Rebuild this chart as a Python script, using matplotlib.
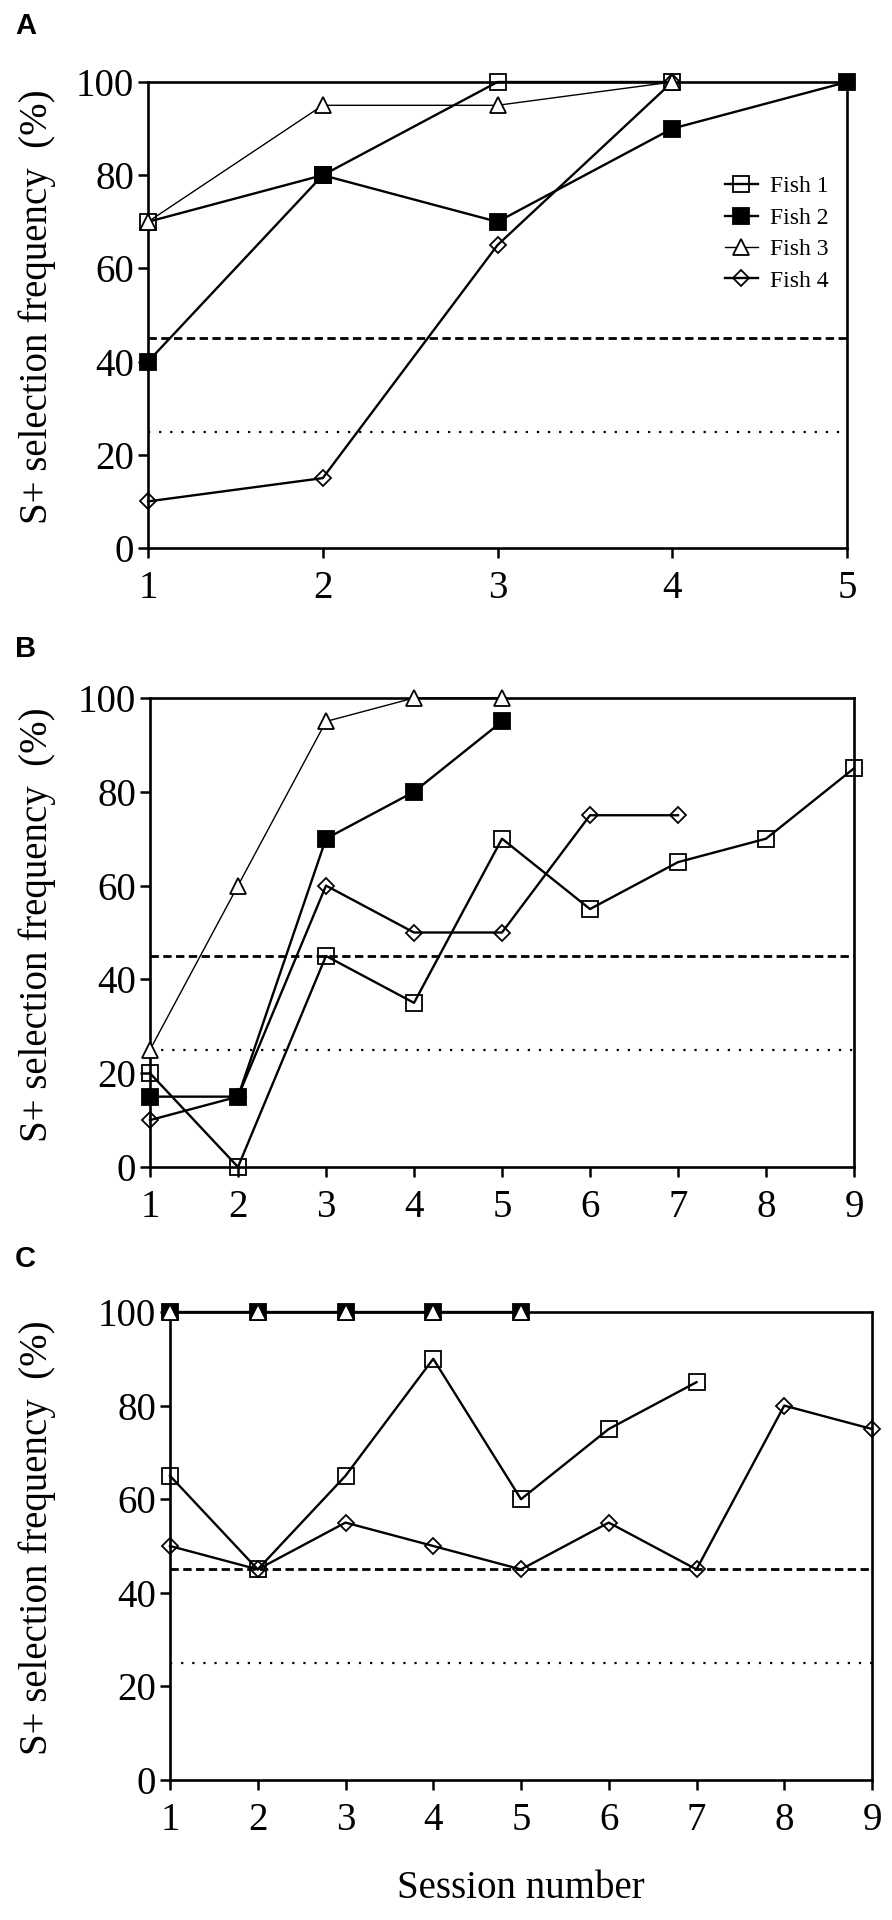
import numpy as np
import matplotlib
matplotlib.use('Agg')
import matplotlib.pyplot as plt

plt.rcParams['font.family'] = ['Liberation Serif', 'DejaVu Serif']

W, H = 892, 1920

# panel A
a_sess = [1, 2, 3, 4, 5]
a_fish1 = [70, 80, 100, 100]
a_fish2 = [40, 80, 70, 90, 100]
a_fish3 = [70, 95, 95, 100]
a_fish4 = [10, 15, 65, 100]

# panel B
b_sess = [1, 2, 3, 4, 5, 6, 7, 8, 9]
b_fish1 = [20, 0, 45, 35, 70, 55, 65, 70, 85]
b_fish2 = [15, 15, 70, 80, 95]
b_fish3 = [25, 60, 95, 100, 100]
b_fish4 = [10, 15, 60, 50, 50, 75, 75]

# panel C
c_sess = [1, 2, 3, 4, 5, 6, 7, 8, 9]
c_fish1 = [65, 45, 65, 90, 60, 75, 85]
c_fish2 = [100, 100, 100, 100, 100]
c_fish3 = [100, 100, 100, 100, 100]
c_fish4 = [50, 45, 55, 50, 45, 55, 45, 80, 75]

fish_names = ['Fish 1', 'Fish 2', 'Fish 3', 'Fish 4']
yticks = [0, 20, 40, 60, 80, 100]
criterion = 45
chance = 25

STYLE = {
    'Fish 1': dict(marker='s', ms=11, mfc='none', lw=1.7, zorder=4),
    'Fish 2': dict(marker='s', ms=11, mfc='black', lw=1.7, zorder=5),
    'Fish 3': dict(marker='^', ms=11, mfc='white', lw=1.0, zorder=6),
    'Fish 4': dict(marker='D', ms=8.5, mfc='none', lw=1.7, zorder=3),
}


def px_axes(fig, left, right, top, bottom):
    return fig.add_axes([left / W, 1 - bottom / H, (right - left) / W,
                         (bottom - top) / H])


def panel(ax, sessions, series, fig, top, bottom):
    for name, vals in zip(fish_names, series):
        st = STYLE[name]
        ax.plot(sessions[:len(vals)], vals, color='black', marker=st['marker'],
                ms=st['ms'], mfc=st['mfc'], mec='black', mew=1.3, lw=st['lw'],
                zorder=st['zorder'], clip_on=False, label=name)
    ax.axhline(criterion, color='black', lw=2.0, ls=(0, (3, 1.6)), zorder=2)
    ax.axhline(chance, color='black', lw=1.6, ls=(0, (1, 4)), zorder=2)
    ax.set_xlim(sessions[0], sessions[-1])
    ax.set_ylim(0, 100)
    ax.set_xticks(sessions)
    ax.set_yticks(yticks)
    ax.tick_params(labelsize=28, length=7, width=1.8, direction='out', pad=3)
    ax.tick_params(axis='x', pad=9)
    for sp in ax.spines.values():
        sp.set_linewidth(1.9)
    fig.text(37 / W, 1 - ((top + bottom) / 2 - 8) / H,
             'S+ selection frequency  (%)', rotation=90, fontsize=28,
             ha='center', va='center')
    return ax


fig = plt.figure(figsize=(W / 100, H / 100), dpi=100)

axA = px_axes(fig, 148, 847, 82, 548)
panel(axA, a_sess, [a_fish1, a_fish2, a_fish3, a_fish4], fig, 82, 548)
axA.legend(loc='upper left', bbox_to_anchor=(713 / W, 1 - 164 / H),
           bbox_transform=fig.transFigure, frameon=False, fontsize=17,
           handlelength=1.4, handletextpad=0.5, labelspacing=0.42,
           borderpad=0, markerscale=1.0)

axB = px_axes(fig, 150, 854, 698, 1167)
panel(axB, b_sess, [b_fish1, b_fish2, b_fish3, b_fish4], fig, 698, 1167)

axC = px_axes(fig, 170, 872, 1312, 1780)
panel(axC, c_sess, [c_fish1, c_fish2, c_fish3, c_fish4], fig, 1312, 1780)
axC.set_xlabel('Session number', fontsize=28, labelpad=22)

for letter, ytop in [('A', 12), ('B', 635), ('C', 1245)]:
    fig.text(15 / W, 1 - ytop / H, letter, fontsize=21, fontweight='bold',
             family=['Liberation Sans', 'DejaVu Sans'], ha='left', va='top')

fig.savefig('out.png', dpi=100)
